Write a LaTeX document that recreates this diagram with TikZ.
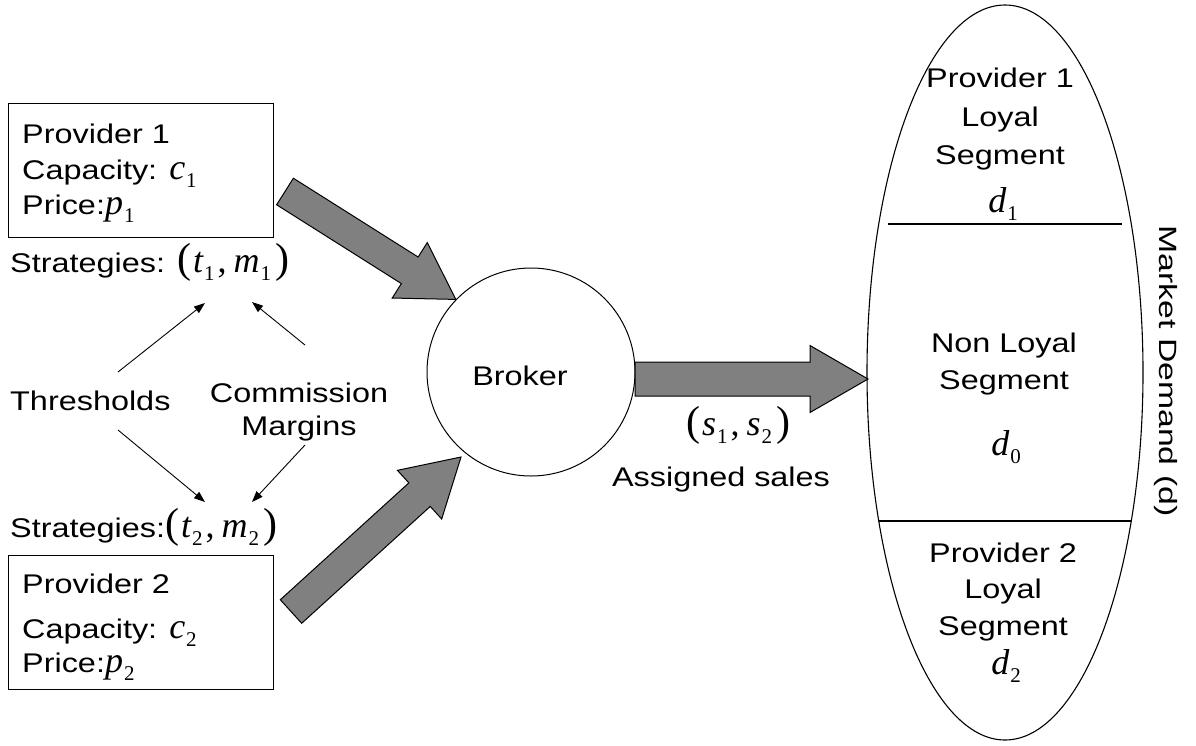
\documentclass[tikz,border=0pt]{standalone}
\usepackage{fontspec}
\setmainfont{Liberation Sans}[FakeStretch=1.2]
\newfontfamily\tnr{Liberation Serif}
\newfontfamily\mdfont{Liberation Sans}[FakeStretch=1.35]
\usetikzlibrary{calc,arrows.meta,shapes.geometric}
\definecolor{arrowgray}{HTML}{808080}
\newcommand\mvar[2]{{\tnr\itshape\fontsize{36}{36}\selectfont #1}\kern1pt\raisebox{-8pt}{\tnr\fontsize{21}{21}\selectfont #2}}
\newcommand\lpar{{\tnr\fontsize{42}{42}\selectfont (}}
\newcommand\rpar{{\tnr\fontsize{42}{42}\selectfont )}}
\newcommand\comma{{\tnr\fontsize{36}{36}\selectfont ,}}
\newcommand\blockarrow[5]{%
  \coordinate (ba-h) at ($(#2)!#5!(#1)$);
  \draw[blockstyle] ($(#1)!#3!90:(#2)$) -- ($(ba-h)!#3!90:(#2)$) -- ($(ba-h)!#4!90:(#2)$)
    -- (#2) -- ($(ba-h)!#4!-90:(#2)$) -- ($(ba-h)!#3!-90:(#2)$) -- ($(#1)!#3!-90:(#2)$) -- cycle;}
\begin{document}
\begin{tikzpicture}[x=1pt,y=-1pt,
  every node/.style={font=\fontsize{27}{32}\selectfont},
  txt/.style={inner sep=0pt, anchor=base west},
  ctxt/.style={inner sep=0pt, anchor=base},
  box/.style={draw, line width=1.1pt, rectangle, minimum width=265pt, minimum height=134pt, anchor=north west, inner sep=0pt},
  thin/.style={line width=0.9pt, -{Triangle[length=11pt,width=8pt]}},
  blockstyle/.style={draw, line width=1pt, fill=arrowgray, line join=miter}]
\useasboundingbox (0,0) rectangle (1196,745);

% provider boxes
\node[box] (p1) at (8,103) {};
\node[txt] (p1name) at (22,143) {Provider 1};
\node[txt] (p1cap) at (22,179) {Capacity: \mvar{c}{1}};
\node[txt] (p1price) at (22,214) {Price:\mvar{p}{1}};
\node[txt] (s1) at (10,272) {Strategies: \lpar\kern2pt\mvar{t}{1}\kern3pt\comma\kern7pt\mvar{m}{1}\kern4pt\rpar};

\node[box] (p2) at (8,555) {};
\node[txt] (p2name) at (22,593) {Provider 2};
\node[txt] (p2cap) at (22,638) {Capacity: \mvar{c}{2}};
\node[txt] (p2price) at (22,672) {Price:\mvar{p}{2}};
\node[txt] (s2) at (10,537) {Strategies:\lpar\kern2pt\mvar{t}{2}\kern3pt\comma\kern7pt\mvar{m}{2}\kern4pt\rpar};

% thresholds / commission
\node[txt] (thr) at (10,410) {Thresholds};
\node[ctxt] (com) at (299,402) {Commission};
\node[ctxt] (mar) at (299,435) {Margins};

\coordinate (thrU) at (118,372);
\coordinate (thrD) at (118,430);
\coordinate (comU) at (305,345);
\coordinate (comD) at (305,445);
\coordinate (t1) at (205,303);
\coordinate (m1) at (252,302);
\coordinate (t2) at (205,502);
\coordinate (m2) at (252,502);
\draw[thin] (thrU) -- (t1);
\draw[thin] (comU) -- (m1);
\draw[thin] (thrD) -- (t2);
\draw[thin] (comD) -- (m2);

% broker
\node[draw, circle, line width=1pt, minimum size=208pt, inner sep=0pt] (broker) at (531,372) {};
\node[ctxt] (brokertxt) at (520,385) {Broker};

% market demand ellipse
\node[draw, ellipse, line width=1.1pt, minimum width=276pt, minimum height=735pt, inner sep=0pt] (demand) at (1005,372.5) {};
\draw[line width=1.3pt] (888,224) -- (1122,224);
\draw[line width=1.3pt] (879,521) -- (1131,521);

\node[ctxt] (l1a) at (1000,87) {Provider 1};
\node[ctxt] (l1b) at (1000,126) {Loyal};
\node[ctxt] (l1c) at (1000,164) {Segment};
\node[ctxt] (l1d) at (1003,212) {\mvar{d}{1}};

\node[ctxt] (nla) at (1004,352) {Non Loyal};
\node[ctxt] (nlb) at (1004,389) {Segment};
\node[ctxt] (nlc) at (1006,455) {\mvar{d}{0}};

\node[ctxt] (l2a) at (1003,562) {Provider 2};
\node[ctxt] (l2b) at (1003,598) {Loyal};
\node[ctxt] (l2c) at (1003,635) {Segment};
\node[ctxt] (l2d) at (1006,674) {\mvar{d}{2}};

\node[inner sep=0pt, rotate=-90, font=\mdfont\fontsize{25}{30}\selectfont] (md) at (1166,371) {Market Demand (d)};

% block arrows
\coordinate (a1s) at (285,191.5);
\coordinate (a1e) at (broker.136);
\coordinate (a2s) at (291,611.5);
\coordinate (a2e) at (461,457);
\coordinate (a3s) at (635,379);
\coordinate (a3e) at (868,379);
\blockarrow{a1s}{a1e}{15.7pt}{32.8pt}{54.5pt}
\blockarrow{a2s}{a2e}{15.9pt}{32.9pt}{56pt}
\blockarrow{a3s}{a3e}{17pt}{33.5pt}{58pt}

\node[ctxt] (sales) at (738,435) {\lpar\kern2pt\mvar{s}{1}\kern3pt\comma\kern7pt\mvar{s}{2}\kern4pt\rpar};
\node[ctxt] (assigned) at (721,486) {Assigned sales};
\end{tikzpicture}
\end{document}
